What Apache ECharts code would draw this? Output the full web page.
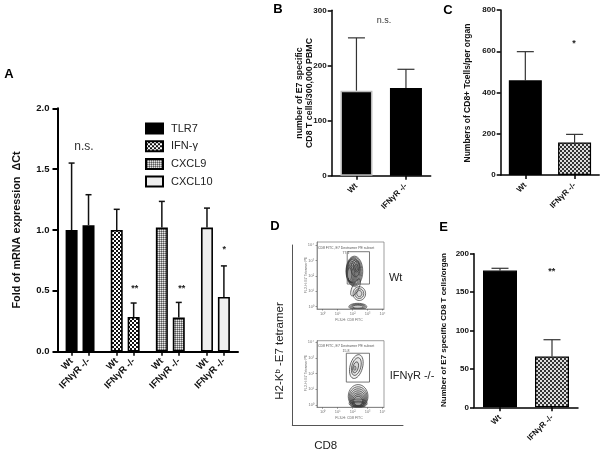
<!DOCTYPE html>
<html><head><meta charset="utf-8">
<style>html,body{margin:0;padding:0;background:#fff}#c{width:603px;height:454px}</style>
<script src="https://cdn.jsdelivr.net/npm/echarts@6/dist/echarts.min.js"></script>
</head><body><div id="c"></div>
<script>
const FONT = '"Liberation Sans", Arial, sans-serif';
// Panel A
const slotLabelsA = ['','','Wt','','','IFNγR -/-','','','','','Wt','','','IFNγR -/-','','','','','Wt','','','IFNγR -/-','','','','','Wt','','','IFNγR -/-','',''];
const slotsTLR7 = [2,5], slotsIFN = [10,13], slotsCXCL9 = [18,21], slotsCXCL10 = [26,29];
const tlr7 = [1.00,1.04], tlr7Top = [1.55,1.29];
const ifng = [1.00,0.285], ifngTop = [1.17,0.40];
const cxcl9 = [1.02,0.28], cxcl9Top = [1.235,0.405];
const cxcl10 = [1.02,0.45], cxcl10Top = [1.18,0.705];
// Panels B, C, E
const catsBCE = ['Wt','IFNγR -/-'];
const valuesB = [154,159], topsB = [250,193];
const valuesC = [459,157], topsC = [598,197];
const valuesE = [178,66], topsE = [181,88];
// Panel D: contours as [cx, cy, rx, ry, tiltDegrees] in log decades; gates as [x0, x1, y0, y1]
const wtContours = [[2.12,2.3,.56,.98,0],[2.1,2.3,.52,.92,0],[2.07,2.3,.48,.86,0],[2.04,2.3,.44,.8,0],[2.0,2.3,.4,.74,0],[1.96,2.25,.35,.68,0],[1.92,2.2,.3,.62,0],[1.88,2.15,.25,.56,0],[1.84,2.1,.2,.5,0],[1.8,2.1,.14,.42,0],[2.2,2.5,.3,.55,0],[2.25,2.6,.2,.35,0],[2.25,2.55,.1,.2,0],
  [2.45,.85,.42,.45,0],[2.45,.85,.3,.32,0],[2.45,.85,.17,.2,0],[2.2,1.25,.22,.6,-25],
  [2.35,0,.6,.22,0],[2.35,0,.52,.18,0],[2.35,0,.44,.14,0],[2.35,0,.36,.1,0]];
const koContours = [[2.25,2.45,.42,.78,-15],[2.25,2.45,.3,.58,-15],[2.2,2.4,.18,.36,-15],[2.15,2.35,.07,.14,0],
  [2.37,.55,.66,.75,0],[2.37,.5,.6,.66,0],[2.37,.45,.54,.58,0],[2.37,.4,.48,.5,0],[2.37,.35,.42,.42,0],[2.37,.3,.36,.36,0],[2.37,.25,.3,.3,0],[2.37,.1,.6,.28,0],[2.37,.05,.52,.2,0],[2.37,.05,.4,.14,0]];
const wtGate = [[1.64,3.13,1.47,3.57]];
const koGate = [[1.58,3.13,1.46,3.3]];
const decades = [0,1,2,3,4];
const decadeLabels = ['10⁰','10¹','10²','10³','10⁴'];

function pattern(size, draw){
  const c = document.createElement('canvas'); c.width = c.height = size;
  draw(c.getContext('2d')); return {image:c, repeat:'repeat'};
}
const checker = pattern(4, g=>{g.fillStyle='#111';g.fillRect(0,0,4,4);g.fillStyle='#fff';g.fillRect(0,0,2,2);g.fillRect(2,2,2,2);});
const checkerLight = pattern(4, g=>{g.fillStyle='#333';g.fillRect(0,0,4,4);g.fillStyle='#ddd';g.fillRect(0,0,2,2);g.fillRect(2,2,2,2);});
const dots = pattern(2, g=>{g.fillStyle='#999';g.fillRect(0,0,2,2);g.fillStyle='#e8e8e8';g.fillRect(0,0,1,1);g.fillStyle='#555';g.fillRect(1,1,1,1);});

const place = (vals, slots) => { const a = slotLabelsA.map(()=>null); slots.forEach((s,i)=>a[s]=vals[i]); return a; };
const triples = (slots, vals, tops) => slots.map((s,i)=>[s,vals[i],tops[i]]);

function errSeries(idx, data, cap, color, lw){
  return {type:'custom', xAxisIndex:idx, yAxisIndex:idx, data, encode:{x:0,y:[1,2]}, z:1, silent:true,
    renderItem(p, api){
      const a = api.coord([api.value(0), api.value(1)]), b = api.coord([api.value(0), api.value(2)]);
      const st = {stroke:color, lineWidth:lw, fill:'none'};
      return {type:'group', children:[
        {type:'line', shape:{x1:a[0],y1:a[1],x2:b[0],y2:b[1]}, style:st},
        {type:'line', shape:{x1:b[0]-cap,y1:b[1],x2:b[0]+cap,y2:b[1]}, style:st}]};
    }};
}
function barSeries(idx, name, data, color, bw, borderColor){
  return {type:'bar', name, xAxisIndex:idx, yAxisIndex:idx, data, barWidth:bw, barGap:'-100%', z:2,
    itemStyle:{color, borderColor:borderColor||'#000', borderWidth:1.6}, silent:true};
}
function contourSeries(idx, data){
  return {type:'custom', xAxisIndex:idx, yAxisIndex:idx, data, silent:true, clip:true,
    encode:{x:0,y:1},
    renderItem(p, api){
      const c = api.coord([api.value(0), api.value(1)]);
      const s = api.size([api.value(2), api.value(3)]);
      return {type:'ellipse', x:c[0], y:c[1], rotation:api.value(4)*Math.PI/180,
        shape:{cx:0,cy:0,rx:s[0],ry:s[1]}, style:{stroke:'#3a3a3a', lineWidth:.7, fill:'rgba(60,60,60,0.07)'}};
    }};
}
function gateSeries(idx, data){
  return {type:'custom', xAxisIndex:idx, yAxisIndex:idx, data, silent:true, encode:{x:[0,1],y:[2,3]},
    renderItem(p, api){
      const a = api.coord([api.value(0), api.value(3)]), b = api.coord([api.value(1), api.value(2)]);
      return {type:'rect', shape:{x:a[0],y:a[1],width:b[0]-a[0],height:b[1]-a[1]}, style:{stroke:'#555', lineWidth:.8, fill:'none'}};
    }};
}

const grids = [
  {left:57.5, top:108.3, width:180.5, height:243.4},   // A
  {left:331.7, top:10.3, width:99, height:165.4},      // B
  {left:500.7, top:10, width:98.5, height:165},        // C
  {left:474, top:253.7, width:104, height:153.6},      // E
  {left:292.3, top:245, width:110.7, height:180},      // D frame
  {left:317, top:242, width:67, height:67},            // D Wt
  {left:317, top:340.7, width:67, height:66.6}         // D KO
];
function catAxis(idx, data, fs, lw, margin){
  return {type:'category', gridIndex:idx, data,
    axisLine:{show:true, onZero:false, lineStyle:{color:'#000', width:lw}},
    axisTick:{show:true, alignWithLabel:true, length:4, lineStyle:{color:'#000', width:lw}},
    axisLabel:{rotate:45, interval:0, margin, fontFamily:FONT, fontSize:fs, fontWeight:'bold', color:'#111'}};
}
function valAxis(idx, max, interval, fs, lw, margin, fmt){
  return {type:'value', gridIndex:idx, min:0, max, interval, splitLine:{show:false},
    axisLine:{show:true, onZero:false, lineStyle:{color:'#000', width:lw}},
    axisTick:{show:true, length:idx===0?5:4, lineStyle:{color:'#000', width:lw}},
    axisLabel:{margin, fontFamily:FONT, fontSize:fs, fontWeight:'bold', color:'#111', formatter:fmt}};
}
function frameAxis(idx){
  return {type:'value', gridIndex:idx, min:0, max:1, splitLine:{show:false}, axisTick:{show:false}, axisLabel:{show:false},
    axisLine:{show:true, onZero:false, lineStyle:{color:'#555', width:1}}};
}
function flowAxis(idx, min, max){
  return {type:'value', gridIndex:idx, min, max, splitLine:{show:false},
    axisLine:{show:true, onZero:false, lineStyle:{color:'#777', width:.7}},
    axisTick:{show:true, length:1.5, customValues:decades, lineStyle:{color:'#555', width:.6}},
    axisLabel:{show:true, margin:3, customValues:decades, fontFamily:FONT, fontSize:4, color:'#777',
      formatter:v=>decadeLabels[Math.round(v)]}};
}

const option = {
  animation:false, backgroundColor:'#fff',
  textStyle:{fontFamily:FONT},
  grid:grids.map((g,i)=>Object.assign({containLabel:false, show:i>=5, borderColor:'#777', borderWidth:.7, backgroundColor:'transparent'}, g)),
  xAxis:[
    Object.assign(catAxis(0, slotLabelsA, 9.5, 2, 8), {axisTick:{show:true, alignWithLabel:true, length:4, interval:i=>slotLabelsA[i]!=='', lineStyle:{color:'#000', width:1.5}}}),
    catAxis(1, catsBCE, 8, 1.5, 9), catAxis(2, catsBCE, 8, 1.5, 9), catAxis(3, catsBCE, 8, 1.5, 9),
    frameAxis(4), flowAxis(5,-.38,4.1), flowAxis(6,-.38,4.1)
  ],
  yAxis:[
    valAxis(0, 2, .5, 9.5, 2, 8, v=>v.toFixed(1)),
    valAxis(1, 300, 100, 8, 1.5, 5), valAxis(2, 800, 200, 8, 1.5, 5), valAxis(3, 200, 50, 8, 1.5, 5),
    frameAxis(4), flowAxis(5,-.15,4.2), flowAxis(6,-.15,4.1)
  ],
  legend:{show:true, orient:'vertical', left:145, top:122.5, padding:0, itemWidth:17, itemHeight:10, itemGap:5.7, selectedMode:false, icon:'rect',
    data:['TLR7','IFN-γ','CXCL9','CXCL10'],
    textStyle:{fontFamily:FONT, fontSize:11, color:'#222', padding:[0,0,0,3]}},
  series:[
    errSeries(0, triples(slotsTLR7,tlr7,tlr7Top), 3, '#111', 1.5),
    errSeries(0, triples(slotsIFN,ifng,ifngTop), 3, '#111', 1.5),
    errSeries(0, triples(slotsCXCL9,cxcl9,cxcl9Top), 3, '#111', 1.5),
    errSeries(0, triples(slotsCXCL10,cxcl10,cxcl10Top), 3, '#111', 1.5),
    barSeries(0,'TLR7',place(tlr7,slotsTLR7),'#000',12),
    barSeries(0,'IFN-γ',place(ifng,slotsIFN),checker,12),
    barSeries(0,'CXCL9',place(cxcl9,slotsCXCL9),dots,12),
    barSeries(0,'CXCL10',place(cxcl10,slotsCXCL10),'#eeeeee',12),
    errSeries(1, catsBCE.map((c,i)=>[i,valuesB[i],topsB[i]]), 8.5, '#333', 1.2),
    {type:'bar', xAxisIndex:1, yAxisIndex:1, barWidth:32, z:2, silent:true,
      data:[{value:valuesB[0], itemStyle:{color:'#000',borderColor:'#bbb',borderWidth:1.5}},{value:valuesB[1], itemStyle:{color:'#000',borderColor:'#000',borderWidth:1.5}}]},
    errSeries(2, catsBCE.map((c,i)=>[i,valuesC[i],topsC[i]]), 8.5, '#333', 1.2),
    {type:'bar', xAxisIndex:2, yAxisIndex:2, barWidth:33, z:2, silent:true,
      data:[{value:valuesC[0], itemStyle:{color:'#000',borderColor:'#000',borderWidth:1.2}},{value:valuesC[1], itemStyle:{color:checkerLight,borderColor:'#000',borderWidth:1.2}}]},
    errSeries(3, catsBCE.map((c,i)=>[i,valuesE[i],topsE[i]]), 8.5, '#333', 1.2),
    {type:'bar', xAxisIndex:3, yAxisIndex:3, barWidth:34, z:2, silent:true,
      data:[{value:valuesE[0], itemStyle:{color:'#000',borderColor:'#000',borderWidth:1.2}},{value:valuesE[1], itemStyle:{color:checkerLight,borderColor:'#000',borderWidth:1.2}}]},
    contourSeries(5, wtContours), gateSeries(5, wtGate),
    contourSeries(6, koContours), gateSeries(6, koGate)
  ],
  graphic:{elements:[
    ...[['A',9,74],['B',278,9],['C',448,10],['D',275,226],['E',443.5,227]].map(([t,x,y])=>txt(t,x,y,{fontSize:13,fontWeight:'bold',fill:'#000'})),
    txt('Fold of mRNA expression  ΔCt',17,230,{fontSize:10.8,fontWeight:'bold',fill:'#111'},Math.PI/2),
    txt('number of E7 specific\nCD8 T cells/300,000 PBMC',305,93,{fontSize:8.8,fontWeight:'bold',fill:'#111',lineHeight:10},Math.PI/2),
    txt('Numbers of CD8+ Tcells/per organ',468,93,{fontSize:8.5,fontWeight:'bold',fill:'#111'},Math.PI/2),
    txt('Number of E7 specific CD8 T cells/organ',443.7,330,{fontSize:8,fontWeight:'bold',fill:'#111'},Math.PI/2),
    txt('n.s.',84,147,{fontSize:12,fill:'#333'}),
    txt('n.s.',384,21,{fontSize:9,fill:'#333'}),
    txt('*',574,44,{fontSize:9,fontWeight:'bold',fill:'#222'}),
    txt('**',134.7,289,{fontSize:9,fontWeight:'bold',fill:'#222'}),
    txt('**',181.7,289,{fontSize:9,fontWeight:'bold',fill:'#222'}),
    txt('*',224.3,250,{fontSize:9,fontWeight:'bold',fill:'#222'}),
    txt('**',551.7,272,{fontSize:9,fontWeight:'bold',fill:'#222'}),
    txt('Wt',395.7,277.7,{fontSize:11,fill:'#222'}),
    txt('IFNγR -/-',412,375.7,{fontSize:11,fill:'#222'}),
    txt('CD8',325.7,445.7,{fontSize:11.5,fill:'#222'}),
    txt('H2-Kᵇ -E7 tetramer',280,351,{fontSize:11.5,fill:'#222',fontFamily:'"Liberation Sans","DejaVu Sans",sans-serif'},Math.PI/2),
    txt('CD8 FITC, E7 Dextramer PE subset\n77.1',346,251,{fontSize:3.5,fill:'#555',lineHeight:5}),
    txt('CD8 FITC, E7 Dextramer PE subset\n15.8',346,349,{fontSize:3.5,fill:'#555',lineHeight:5}),
    txt('FL3-H: CD8 FITC',349,320,{fontSize:3.5,fill:'#666'}),
    txt('FL3-H: CD8 FITC',349,418,{fontSize:3.5,fill:'#666'}),
    txt('FL2-H: E7 Tetramer PE',305.7,275,{fontSize:3.5,fill:'#666'},Math.PI/2),
    txt('FL2-H: E7 Tetramer PE',305.7,373,{fontSize:3.5,fill:'#666'},Math.PI/2)
  ]}
};
function txt(text,x,y,style,rotation){
  return {type:'text', x, y, rotation:rotation||0, silent:true,
    style:Object.assign({text, fontFamily:FONT, textAlign:'center', textVerticalAlign:'middle'}, style)};
}
const chart = echarts.init(document.getElementById('c'), null, {renderer:'canvas', width:603, height:454});
chart.setOption(option);
</script></body></html>
